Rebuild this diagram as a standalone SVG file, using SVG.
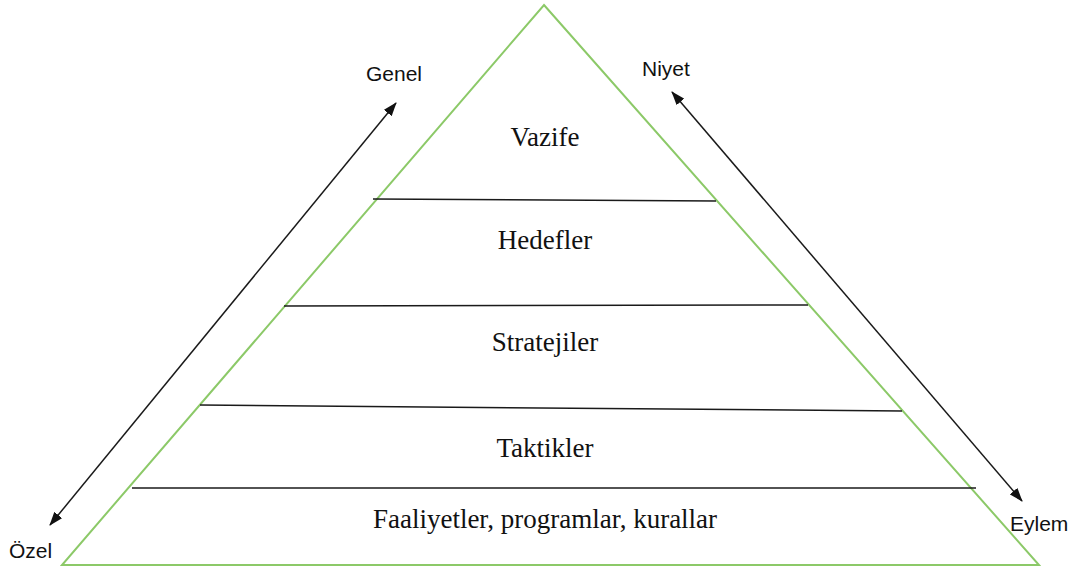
<svg xmlns="http://www.w3.org/2000/svg" width="1085" height="569" viewBox="0 0 1085 569">
  <style>
    .tri { fill: none; stroke: #8cc968; stroke-width: 2; stroke-linejoin: miter; }
    .band { stroke: #1a1a1a; stroke-width: 1.5; fill: none; }
    .axis { stroke: #1a1a1a; stroke-width: 1.5; fill: none; marker-start: url(#head); marker-end: url(#head); }
    .level { font-family: "Liberation Serif", "Times New Roman", serif; font-size: 27px; fill: #111; text-anchor: middle; }
    .side { font-family: "Liberation Sans", Arial, sans-serif; font-size: 21px; fill: #111; }
  </style>
  <defs>
    <marker id="head" viewBox="0 0 14 10" refX="13" refY="5" markerWidth="14" markerHeight="10" markerUnits="userSpaceOnUse" orient="auto-start-reverse">
      <path d="M0,0 L14,5 L0,10 z" fill="#111"/>
    </marker>
  </defs>

  <rect width="1085" height="569" fill="#ffffff"/>

  <!-- pyramid outline -->
  <g id="pyramid">
    <polygon class="tri" points="544,5 1039,565 62,565"/>
  </g>

  <!-- dividing lines between levels, plus the two side axes -->
  <g id="connectors">
    <line class="band" x1="373" y1="199" x2="716" y2="201"/>
    <line class="band" x1="284" y1="306" x2="808" y2="305"/>
    <line class="band" x1="200" y1="405" x2="902" y2="411"/>
    <line class="band" x1="132" y1="488" x2="976" y2="488"/>
    <line class="axis" x1="50" y1="525" x2="396" y2="103"/>
    <line class="axis" x1="672" y1="92" x2="1022" y2="501"/>
  </g>

  <g id="level-vazife"><text class="level" x="545" y="146">Vazife</text></g>
  <g id="level-hedefler"><text class="level" x="545" y="249">Hedefler</text></g>
  <g id="level-stratejiler"><text class="level" x="545" y="351">Stratejiler</text></g>
  <g id="level-taktikler"><text class="level" x="545" y="457">Taktikler</text></g>
  <g id="level-faaliyetler"><text class="level" x="545" y="528">Faaliyetler, programlar, kurallar</text></g>

  <g id="label-genel"><text class="side" x="366" y="81">Genel</text></g>
  <g id="label-niyet"><text class="side" x="642" y="76">Niyet</text></g>
  <g id="label-ozel"><text class="side" x="9" y="558">Özel</text></g>
  <g id="label-eylem"><text class="side" x="1010" y="531">Eylem</text></g>
</svg>
